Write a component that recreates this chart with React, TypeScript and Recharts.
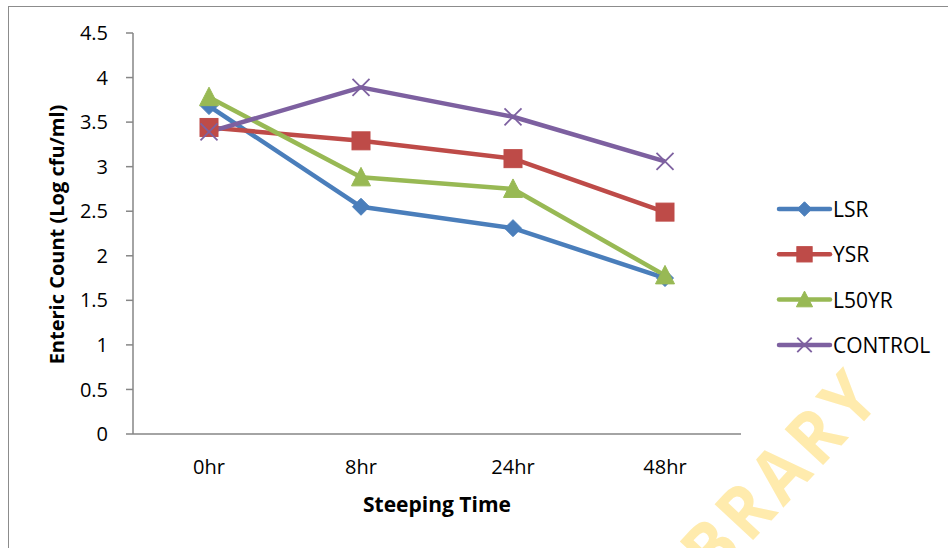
import React from 'react';
import { LineChart, Line, XAxis, YAxis, Legend } from 'recharts';

const categories = ['0hr', '8hr', '24hr', '48hr'];
const lsrValues = [3.68, 2.55, 2.31, 1.75];
const ysrValues = [3.44, 3.29, 3.09, 2.49];
const l50yrValues = [3.78, 2.88, 2.75, 1.78];
const controlValues = [3.39, 3.89, 3.56, 3.06];
const yTicks = [0, 0.5, 1, 1.5, 2, 2.5, 3, 3.5, 4, 4.5];
const seriesNames = ['LSR', 'YSR', 'L50YR', 'CONTROL'];
const seriesColors = ['#4A7EBB', '#BE4B48', '#98B954', '#7D60A0'];
const seriesShapes = ['diamond', 'square', 'triangle', 'cross'];
const xTitle = 'Steeping Time';
const yTitle = 'Enteric Count (Log cfu/ml)';
const watermark = 'LIBRARY';

const seriesValues = [lsrValues, ysrValues, l50yrValues, controlValues];

const data = categories.map((c, i) => {
  const row: Record<string, any> = { time: c };
  seriesNames.forEach((n, k) => {
    row[n] = seriesValues[k][i];
  });
  return row;
});

const FONT = '"Open Sans", "DejaVu Sans", sans-serif';
const AXIS = '#868686';

function Marker({ shape, cx, cy, color, s = 1 }: { shape: string; cx: number; cy: number; color: string; s?: number }) {
  switch (shape) {
    case 'diamond': {
      const h = 8.5 * s;
      return <path d={`M${cx},${cy - h}L${cx + h},${cy}L${cx},${cy + h}L${cx - h},${cy}Z`} fill={color} stroke={color} strokeWidth={1} />;
    }
    case 'square': {
      const h = 9 * s;
      return <rect x={cx - h} y={cy - h} width={2 * h} height={2 * h} fill={color} stroke={color} strokeWidth={1} />;
    }
    case 'triangle': {
      const w = 9.5 * s;
      return <path d={`M${cx},${cy - 10 * s}L${cx + w},${cy + 8.5 * s}L${cx - w},${cy + 8.5 * s}Z`} fill={color} stroke={color} strokeWidth={1} strokeLinejoin="round" />;
    }
    default: {
      const h = 8.5 * s;
      return (
        <g stroke={color} strokeWidth={1.8}>
          <line x1={cx - h} y1={cy - h} x2={cx + h} y2={cy + h} />
          <line x1={cx - h} y1={cy + h} x2={cx + h} y2={cy - h} />
        </g>
      );
    }
  }
}

const renderLegend = () => (
  <svg width={180} height={170} style={{ overflow: 'visible', display: 'block' }}>
    {seriesNames.map((n, i) => {
      const y = 10 + i * 45.3;
      return (
        <g key={n}>
          <line x1={1} x2={52} y1={y} y2={y} stroke={seriesColors[i]} strokeWidth={4.5} strokeLinecap="round" />
          <Marker shape={seriesShapes[i]} cx={26.5} cy={y} color={seriesColors[i]} s={0.85} />
          <text x={55} y={y} dominantBaseline="central" fontFamily={FONT} fontSize={21} fill="#000">
            {n}
          </text>
        </g>
      );
    })}
  </svg>
);

export default function App() {
  return (
    <div style={{ position: 'absolute', left: 0, top: 0, width: 948, height: 548, overflow: 'hidden', background: '#fff' }}>
      <div
        style={{
          position: 'absolute',
          left: 7.5,
          top: 5.5,
          width: 1100,
          height: 700,
          border: '1.5px solid #8C8C8C',
          boxSizing: 'border-box',
        }}
      />
      <div
        style={{
          position: 'absolute',
          left: 755,
          top: 497,
          transform: 'translate(-50%, -50%) rotate(-47deg) scaleY(1.1)',
          color: '#FFEBAD',
          fontFamily: FONT,
          fontWeight: 'bold',
          fontSize: 67,
          letterSpacing: 6,
          whiteSpace: 'nowrap',
          lineHeight: 1,
        }}
      >
        {watermark}
      </div>
      <div style={{ position: 'absolute', left: 0, top: 0 }}>
        <LineChart width={948} height={548} data={data} margin={{ top: 33, right: 207, bottom: 14, left: 33 }}>
          <XAxis
            dataKey="time"
            height={100}
            padding={{ left: 76, right: 76 }}
            tickLine={false}
            tickMargin={20}
            axisLine={{ stroke: AXIS, strokeWidth: 1.5 }}
            tick={{ fill: '#000', fontFamily: FONT, fontSize: 20 }}
            label={(props: any) => {
              const vb = props.viewBox;
              return (
                <text x={vb.x + vb.width / 2} y={vb.y + 70} textAnchor="middle" dominantBaseline="central" fontFamily={FONT} fontWeight="bold" fontSize={21} fill="#000">
                  {xTitle}
                </text>
              );
            }}
          />
          <YAxis
            width={100}
            domain={[0, 4.5]}
            ticks={yTicks}
            tickSize={7}
            tickMargin={18}
            interval={0}
            axisLine={{ stroke: AXIS, strokeWidth: 1.5 }}
            tickLine={{ stroke: AXIS, strokeWidth: 1.5 }}
            tick={{ fill: '#000', fontFamily: FONT, fontSize: 20 }}
            label={(props: any) => {
              const vb = props.viewBox;
              const cx = vb.x + 23;
              const cy = vb.y + vb.height / 2 + 1;
              return (
                <text x={cx} y={cy} transform={`rotate(-90, ${cx}, ${cy})`} textAnchor="middle" dominantBaseline="central" fontFamily={FONT} fontWeight="bold" fontSize={20} fill="#000">
                  {yTitle}
                </text>
              );
            }}
          />
          <Legend
            content={renderLegend}
            wrapperStyle={{ position: 'absolute', left: 778, top: 199, width: 0, height: 0, overflow: 'visible' }}
          />
          {seriesNames.map((n, i) => (
            <Line
              key={n}
              dataKey={n}
              stroke={seriesColors[i]}
              strokeWidth={4.5}
              strokeLinejoin="round"
              isAnimationActive={false}
              dot={(p: any) => <Marker key={`${n}-${p.index}`} shape={seriesShapes[i]} cx={p.cx} cy={p.cy} color={seriesColors[i]} />}
              activeDot={false}
            />
          ))}
        </LineChart>
      </div>
    </div>
  );
}
